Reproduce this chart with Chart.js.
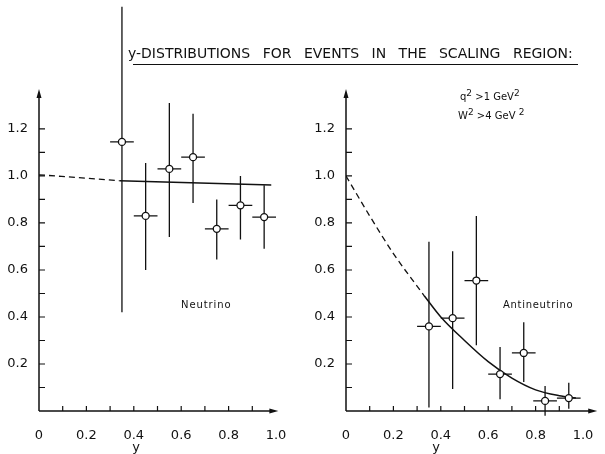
<!DOCTYPE html>
<html>
<head>
<meta charset="utf-8">
<script src="https://cdn.jsdelivr.net/npm/chart.js@4.4.1/dist/chart.umd.min.js"></script>
<style>
  body { margin: 0; background: #fff; width: 605px; height: 454px; position: relative; overflow: hidden;
         font-family: "DejaVu Sans", sans-serif; color: #111; }
  canvas { position: absolute; top: 0; }
  #nuChart { left: 0; }
  #anuChart { left: 307px; }
  .title { position: absolute; left: 128px; top: 45px; font-size: 14px; white-space: nowrap; word-spacing: 8px; }
  .rule { position: absolute; left: 133px; top: 64px; width: 445px; border-top: 1.3px solid #111; }
  .note { position: absolute; font-size: 10px; white-space: pre; line-height: 12px; }
  .note sup { font-size: 9px; line-height: 0; }
</style>
</head>
<body>
<canvas id="nuChart" width="300" height="454"></canvas>
<canvas id="anuChart" width="298" height="454"></canvas>

<div class="title">y-DISTRIBUTIONS FOR EVENTS IN THE SCALING REGION:</div>
<div class="rule"></div>
<div class="note" style="left:460px; top:91px;">q<sup>2</sup> &gt;1 GeV<sup>2</sup></div>
<div class="note" style="left:458px; top:110px;">W<sup>2</sup> &gt;4 GeV <sup>2</sup></div>
<div class="note" style="left:181px; top:299px; letter-spacing:0.9px;">Neutrino</div>
<div class="note" style="left:503px; top:299px; letter-spacing:0.7px;">Antineutrino</div>

<script>
// axis ticks (same on both panels)
const xTicks = [0, 0.2, 0.4, 0.6, 0.8, 1.0];
const yTicks = [0.2, 0.4, 0.6, 0.8, 1.0, 1.2];
const xMinor = [0.1, 0.2, 0.3, 0.4, 0.5, 0.6, 0.7, 0.8, 0.9];
const yMinor = [0.1, 0.2, 0.3, 0.4, 0.5, 0.6, 0.7, 0.8, 0.9, 1.0, 1.1, 1.2];

// Neutrino data points with error bars
const nuX = [0.35, 0.45, 0.55, 0.65, 0.75, 0.85, 0.95];
const nuY = [1.145, 0.83, 1.03, 1.08, 0.775, 0.875, 0.825];
const nuLow = [0.42, 0.60, 0.74, 0.885, 0.645, 0.73, 0.69];
const nuHigh = [1.72, 1.055, 1.31, 1.265, 0.90, 1.00, 0.96];
const nuXErr = [0.05, 0.05, 0.05, 0.05, 0.05, 0.05, 0.05];
// Neutrino fit: dashed extrapolation, then solid
const nuDashX = [0, 0.34];
const nuDashY = [1.005, 0.98];
const nuFitX = [0.34, 0.98];
const nuFitY = [0.98, 0.962];

// Antineutrino data points with error bars
const anuX = [0.35, 0.45, 0.55, 0.65, 0.75, 0.84, 0.94];
const anuY = [0.36, 0.395, 0.555, 0.157, 0.247, 0.043, 0.055];
const anuLow = [0.015, 0.094, 0.28, 0.05, 0.123, -0.02, 0.01];
const anuHigh = [0.72, 0.68, 0.83, 0.272, 0.378, 0.106, 0.12];
const anuXErr = [0.05, 0.05, 0.05, 0.05, 0.05, 0.05, 0.05];
// Antineutrino fit curve
const anuDashX = [0, 0.1, 0.2, 0.33];
const anuDashY = [1.0, 0.83, 0.67, 0.49];
const anuFitX = [0.33, 0.4, 0.5, 0.6, 0.7, 0.8, 0.9, 0.97];
const anuFitY = [0.49, 0.40, 0.30, 0.21, 0.14, 0.09, 0.065, 0.055];

const ink = '#111';
const tickFont = { family: 'DejaVu Sans', size: 13 };

function pairs(xs, ys) {
    return xs.map((x, i) => ({ x: x, y: ys[i] }));
}

// error bars drawn under the points, not clipped (first neutrino bar runs off the top)
const errorBarPlugin = {
    id: 'errorBars',
    beforeDatasetsDraw(chart, args, opts) {
        const ctx = chart.ctx, xs = chart.scales.x, ys = chart.scales.y;
        ctx.save();
        ctx.strokeStyle = ink;
        ctx.lineWidth = 1.3;
        opts.x.forEach((x, i) => {
            const px = xs.getPixelForValue(x);
            const py = ys.getPixelForValue(opts.y[i]);
            ctx.beginPath();
            ctx.moveTo(px, ys.getPixelForValue(opts.low[i]));
            ctx.lineTo(px, ys.getPixelForValue(opts.high[i]));
            ctx.moveTo(xs.getPixelForValue(x - opts.xErr[i]), py);
            ctx.lineTo(xs.getPixelForValue(x + opts.xErr[i]), py);
            ctx.stroke();
        });
        ctx.restore();
    }
};

// hand-drawn style axes: arrows, inward ticks, axis title
const paperAxesPlugin = {
    id: 'paperAxes',
    afterDraw(chart, args, opts) {
        const ctx = chart.ctx, xs = chart.scales.x, ys = chart.scales.y;
        const x0 = xs.getPixelForValue(0), y0 = ys.getPixelForValue(0);
        const xEnd = xs.getPixelForValue(opts.xEnd), yTop = chart.chartArea.top;
        ctx.save();
        ctx.strokeStyle = ink;
        ctx.fillStyle = ink;
        ctx.lineWidth = 1.5;
        ctx.beginPath();
        ctx.moveTo(x0, y0);
        ctx.lineTo(x0, yTop + 6);
        ctx.moveTo(x0, y0);
        ctx.lineTo(xEnd - 6, y0);
        ctx.stroke();
        // arrow heads
        ctx.beginPath();
        ctx.moveTo(x0, yTop);
        ctx.lineTo(x0 - 2.5, yTop + 9);
        ctx.lineTo(x0 + 2.5, yTop + 9);
        ctx.closePath();
        ctx.moveTo(xEnd, y0);
        ctx.lineTo(xEnd - 9, y0 - 2.5);
        ctx.lineTo(xEnd - 9, y0 + 2.5);
        ctx.closePath();
        ctx.fill();
        // inward ticks
        ctx.lineWidth = 1.2;
        ctx.beginPath();
        xMinor.forEach(v => {
            const px = xs.getPixelForValue(v);
            ctx.moveTo(px, y0);
            ctx.lineTo(px, y0 - 5);
        });
        yMinor.forEach(v => {
            const py = ys.getPixelForValue(v);
            ctx.moveTo(x0, py);
            ctx.lineTo(x0 + 6, py);
        });
        ctx.stroke();
        // axis title
        ctx.font = '13px "DejaVu Sans"';
        ctx.textAlign = 'center';
        ctx.textBaseline = 'middle';
        ctx.fillText('y', xs.getPixelForValue(opts.titleAt), 448);
        ctx.restore();
    }
};

function makePanel(id, p) {
    return new Chart(document.getElementById(id), {
        type: 'scatter',
        data: {
            datasets: [
                {
                    type: 'line',
                    data: pairs(p.dashX, p.dashY),
                    borderColor: ink,
                    borderWidth: 1.3,
                    borderDash: [6, 4],
                    pointRadius: 0,
                    cubicInterpolationMode: 'monotone',
                    order: 2
                },
                {
                    type: 'line',
                    data: pairs(p.fitX, p.fitY),
                    borderColor: ink,
                    borderWidth: 1.5,
                    pointRadius: 0,
                    cubicInterpolationMode: 'monotone',
                    order: 1
                },
                {
                    data: pairs(p.x, p.y),
                    pointRadius: 3.5,
                    pointBackgroundColor: '#fff',
                    pointBorderColor: ink,
                    pointBorderWidth: 1.3,
                    order: 0
                }
            ]
        },
        options: {
            responsive: false,
            animation: false,
            layout: { padding: { left: 0, top: 89, right: p.padRight, bottom: 0 } },
            plugins: {
                legend: { display: false },
                tooltip: { enabled: false },
                errorBars: { x: p.x, y: p.y, low: p.low, high: p.high, xErr: p.xErr },
                paperAxes: { xEnd: p.xEnd, titleAt: p.titleAt }
            },
            scales: {
                x: {
                    type: 'linear',
                    min: 0,
                    max: 1.0,
                    grid: { display: false },
                    border: { display: false },
                    afterBuildTicks: s => { s.ticks = xTicks.map(v => ({ value: v })); },
                    afterFit: s => { s.height = 43; },
                    ticks: {
                        color: ink,
                        font: tickFont,
                        padding: 9,
                        maxRotation: 0,
                        callback: v => v === 0 ? '0' : v.toFixed(1)
                    }
                },
                y: {
                    type: 'linear',
                    min: 0,
                    max: 1.37,
                    grid: { display: false },
                    border: { display: false },
                    afterBuildTicks: s => { s.ticks = yTicks.map(v => ({ value: v })); },
                    afterFit: s => { s.width = 39; },
                    ticks: {
                        color: ink,
                        font: tickFont,
                        padding: 3,
                        callback: v => v.toFixed(1)
                    }
                }
            }
        },
        plugins: [errorBarPlugin, paperAxesPlugin]
    });
}

makePanel('nuChart', {
    x: nuX, y: nuY, low: nuLow, high: nuHigh, xErr: nuXErr,
    dashX: nuDashX, dashY: nuDashY, fitX: nuFitX, fitY: nuFitY,
    padRight: 24, xEnd: 1.01, titleAt: 0.41
});

makePanel('anuChart', {
    x: anuX, y: anuY, low: anuLow, high: anuHigh, xErr: anuXErr,
    dashX: anuDashX, dashY: anuDashY, fitX: anuFitX, fitY: anuFitY,
    padRight: 22, xEnd: 1.06, titleAt: 0.38
});
</script>
</body>
</html>
